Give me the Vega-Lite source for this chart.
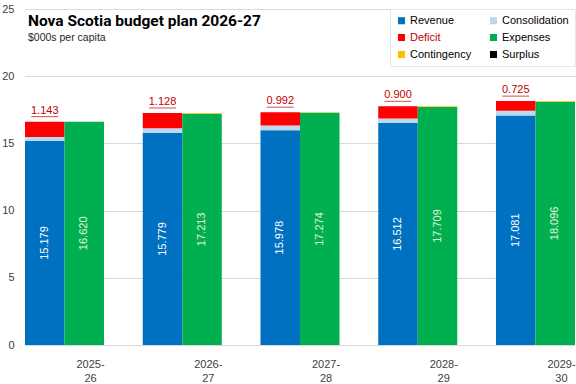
{
  "$schema": "https://vega.github.io/schema/vega-lite/v6.json",
  "width": 550,
  "height": 336,
  "autosize": "none",
  "padding": {"left": 25, "top": 9, "right": 1, "bottom": 39},
  "background": "white",
  "config": {"view": {"stroke": null}, "font": "Liberation Sans"},
  "title": {
    "text": "Nova Scotia budget plan 2026-27",
    "subtitle": "$000s per capita",
    "anchor": "start",
    "frame": "group",
    "offset": -40,
    "dx": 3,
    "font": "Roboto",
    "fontSize": 15.5,
    "fontWeight": "bold",
    "color": "#000000",
    "subtitleFont": "Liberation Sans",
    "subtitleFontSize": 10.5,
    "subtitleColor": "#262626",
    "subtitlePadding": 3
  },
  "datasets": {
    "bars": [
      {"year": "2025-26", "bar": "rev", "series": "Revenue", "value": 15.179, "ord": 1},
      {"year": "2025-26", "bar": "rev", "series": "Consolidation", "value": 0.298, "ord": 2},
      {"year": "2025-26", "bar": "rev", "series": "Deficit", "value": 1.143, "ord": 3},
      {"year": "2025-26", "bar": "exp", "series": "Expenses", "value": 16.620, "ord": 1},
      {"year": "2025-26", "bar": "exp", "series": "Contingency", "value": 0, "ord": 2},
      {"year": "2026-27", "bar": "rev", "series": "Revenue", "value": 15.779, "ord": 1},
      {"year": "2026-27", "bar": "rev", "series": "Consolidation", "value": 0.356, "ord": 2},
      {"year": "2026-27", "bar": "rev", "series": "Deficit", "value": 1.128, "ord": 3},
      {"year": "2026-27", "bar": "exp", "series": "Expenses", "value": 17.213, "ord": 1},
      {"year": "2026-27", "bar": "exp", "series": "Contingency", "value": 0.05, "ord": 2},
      {"year": "2027-28", "bar": "rev", "series": "Revenue", "value": 15.978, "ord": 1},
      {"year": "2027-28", "bar": "rev", "series": "Consolidation", "value": 0.354, "ord": 2},
      {"year": "2027-28", "bar": "rev", "series": "Deficit", "value": 0.992, "ord": 3},
      {"year": "2027-28", "bar": "exp", "series": "Expenses", "value": 17.274, "ord": 1},
      {"year": "2027-28", "bar": "exp", "series": "Contingency", "value": 0.05, "ord": 2},
      {"year": "2028-29", "bar": "rev", "series": "Revenue", "value": 16.512, "ord": 1},
      {"year": "2028-29", "bar": "rev", "series": "Consolidation", "value": 0.347, "ord": 2},
      {"year": "2028-29", "bar": "rev", "series": "Deficit", "value": 0.900, "ord": 3},
      {"year": "2028-29", "bar": "exp", "series": "Expenses", "value": 17.709, "ord": 1},
      {"year": "2028-29", "bar": "exp", "series": "Contingency", "value": 0.05, "ord": 2},
      {"year": "2029-30", "bar": "rev", "series": "Revenue", "value": 17.081, "ord": 1},
      {"year": "2029-30", "bar": "rev", "series": "Consolidation", "value": 0.340, "ord": 2},
      {"year": "2029-30", "bar": "rev", "series": "Deficit", "value": 0.725, "ord": 3},
      {"year": "2029-30", "bar": "exp", "series": "Expenses", "value": 18.096, "ord": 1},
      {"year": "2029-30", "bar": "exp", "series": "Contingency", "value": 0.05, "ord": 2}
    ],
    "labels": [
      {"year": "2025-26", "deficit": "1.143", "top": 16.620},
      {"year": "2026-27", "deficit": "1.128", "top": 17.263},
      {"year": "2027-28", "deficit": "0.992", "top": 17.324},
      {"year": "2028-29", "deficit": "0.900", "top": 17.759},
      {"year": "2029-30", "deficit": "0.725", "top": 18.146}
    ]
  },
  "encoding": {
    "x": {
      "field": "year",
      "type": "nominal",
      "scale": {"paddingInner": 0.329, "paddingOuter": 0},
      "axis": {
        "title": null,
        "labelAngle": 0,
        "ticks": false,
        "domain": false,
        "labelOffset": 26,
        "labelPadding": 13,
        "labelFontSize": 11,
        "labelColor": "#404040",
        "labelLineHeight": 14,
        "labelExpr": "[slice(datum.label, 0, 5), slice(datum.label, 5)]"
      }
    }
  },
  "layer": [
    {
      "data": {"name": "bars"},
      "mark": {"type": "bar", "strokeWidth": 0},
      "encoding": {
        "xOffset": {"field": "bar", "type": "nominal", "scale": {"domain": ["rev", "exp"], "paddingInner": 0}},
        "y": {
          "field": "value",
          "type": "quantitative",
          "stack": "zero",
          "scale": {"domain": [0, 25], "nice": false},
          "axis": {
            "title": null,
            "values": [0, 5, 10, 15, 20, 25],
            "domain": false,
            "ticks": false,
            "labelPadding": 11,
            "labelFontSize": 11,
            "labelColor": "#404040",
            "gridColor": "#d9d9d9"
          }
        },
        "color": {
          "field": "series",
          "type": "nominal",
          "scale": {
            "domain": ["Revenue", "Deficit", "Contingency", "Consolidation", "Expenses", "Surplus"],
            "range": ["#0070c0", "#ff0000", "#ffc000", "#bdd7ee", "#00b050", "#000000"]
          },
          "legend": {
            "title": null,
            "orient": "top-right",
            "offset": 0,
            "padding": 6,
            "columns": 2,
            "columnPadding": 16,
            "rowPadding": 5,
            "symbolType": "square",
            "symbolSize": 50,
            "symbolStrokeWidth": 0,
            "labelFontSize": 11,
            "labelColor": "#000000",
            "labelOffset": 3,
            "labelLimit": 200,
            "fillColor": "white",
            "strokeColor": "#e6e6e6",
            "encode": {
              "labels": {
                "update": {
                  "fill": {"signal": "datum.label === 'Deficit' ? '#c00000' : '#000000'"}
                }
              }
            }
          }
        },
        "order": {"field": "ord", "type": "quantitative"}
      }
    },
    {
      "data": {"name": "bars"},
      "transform": [{"filter": "datum.ord === 1"}],
      "mark": {
        "type": "text",
        "angle": 270,
        "align": "center",
        "baseline": "middle",
        "fontSize": 11,
        "yOffset": {"expr": "(scale('y', 0) - scale('y', datum.value)) / 2"}
      },
      "encoding": {
        "xOffset": {"field": "bar", "type": "nominal"},
        "y": {"field": "value", "type": "quantitative", "stack": null},
        "text": {"field": "value", "type": "quantitative", "format": ".3f"},
        "fill": {"condition": {"test": "datum.bar === 'rev'", "value": "#ffffff"}, "value": "#e2f0d9"}
      }
    },
    {
      "data": {"name": "labels"},
      "mark": {"type": "text", "align": "center", "baseline": "alphabetic", "fontSize": 11, "fill": "#c00000", "yOffset": -8},
      "encoding": {
        "xOffset": {"datum": "rev"},
        "y": {"field": "top", "type": "quantitative"},
        "text": {"field": "deficit"}
      }
    },
    {
      "data": {"name": "labels"},
      "mark": {"type": "tick", "orient": "horizontal", "thickness": 1, "size": 27, "yOffset": -5, "color": "#c00000"},
      "encoding": {
        "xOffset": {"datum": "rev"},
        "y": {"field": "top", "type": "quantitative"}
      }
    }
  ]
}
